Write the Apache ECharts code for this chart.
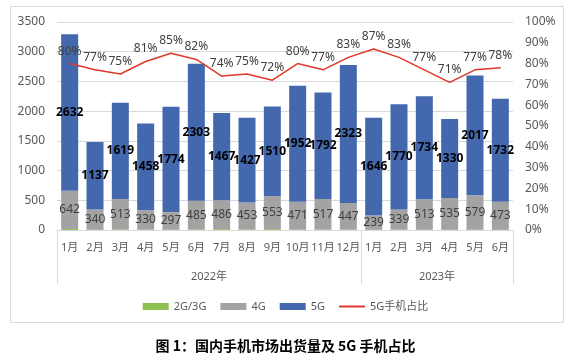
<!DOCTYPE html>
<html><head><meta charset="utf-8">
<script src="https://cdn.jsdelivr.net/npm/echarts@6/dist/echarts.min.js"></script>
<style>html,body{margin:0;padding:0;background:#fff}#c{width:571px;height:362px}</style>
</head><body><div id="c"></div>
<script>
const months = ['1月','2月','3月','4月','5月','6月','7月','8月','9月','10月','11月','12月','1月','2月','3月','4月','5月','6月'];
const years = ['2022年','2023年'];
const g23 = [18, 4, 8, 6, 4, 8, 14, 8, 14, 5, 6, 8, 3, 8, 4, 3, 4, 3];
const g4 = [642,340,513,330,297,485,486,453,553,471,517,447,239,339,513,535,579,473];
const g5 = [2632,1137,1619,1458,1774,2303,1467,1427,1510,1952,1792,2323,1646,1770,1734,1330,2017,1732];
const share = [80,77,75,81,85,82,74,75,72,80,77,83,87,83,77,71,77,78];
const leftTicks = [0,500,1000,1500,2000,2500,3000,3500];
const titleText = '图 1：国内手机市场出货量及 5G 手机占比';

const font = 'Noto Sans, Noto Sans CJK SC, sans-serif';
const chart = echarts.init(document.getElementById('c'), null, {renderer:'canvas'});
chart.setOption({
  animation:false,
  textStyle:{fontFamily:font},
  title:{text:titleText, left:'center', top:334, textStyle:{fontSize:14, fontWeight:'bold', color:'#000', fontFamily:'Noto Sans CJK SC, sans-serif'}},
  graphic:[{type:'rect', shape:{x:10.5,y:6.5,width:553,height:316}, style:{fill:'none', stroke:'#d9d9d9', lineWidth:1}, silent:true, z:-1}],
  legend:{top:296, left:'center', itemWidth:26, itemHeight:7, itemGap:14, textStyle:{fontSize:11, color:'#595959'},
    data:[{name:'2G/3G',icon:'rect'},{name:'4G',icon:'rect'},{name:'5G',icon:'rect'},{name:'5G手机占比',icon:'path://M0 0H26V2H0Z'}]},
  grid:{left:57, right:58, top:22, bottom:132},
  xAxis:[{
    type:'category', data:months, boundaryGap:true,
    axisLine:{lineStyle:{color:'#d9d9d9'}},
    axisTick:{show:true, length:54, lineStyle:{color:'#d9d9d9'}, interval:function(i){return i===0||i===12||i===18;}},
    axisLabel:{color:'#595959', fontSize:11, margin:12, interval:0}
  },{
    type:'value', min:0, max:18, interval:3, position:'bottom', offset:33,
    axisLine:{show:false}, axisTick:{show:false}, splitLine:{show:false},
    axisLabel:{color:'#595959', fontSize:11, showMinLabel:true, showMaxLabel:true,
      formatter:function(v){return v===6?years[0]:(v===15?years[1]:'');}}
  }],
  yAxis:[{
    type:'value', min:0, max:3500, interval:500,
    axisLine:{show:false}, axisTick:{show:false},
    splitLine:{lineStyle:{color:'#d9d9d9'}},
    axisLabel:{color:'#595959', fontSize:12, margin:12, formatter:function(v){return leftTicks.indexOf(v)>=0?String(v):'';}}
  },{
    type:'value', min:0, max:100, interval:10,
    axisLine:{show:false}, axisTick:{show:false}, splitLine:{show:false},
    axisLabel:{color:'#595959', fontSize:12, margin:12, formatter:'{value}%'}
  }],
  series:[
    {name:'2G/3G', type:'bar', stack:'a', data:g23, barWidth:17, itemStyle:{color:'#8DC152'}},
    {name:'4G', type:'bar', stack:'a', data:g4, barWidth:17, itemStyle:{color:'#A3A3A3'},
      label:{show:true, position:'inside', color:'#404040', fontSize:12}},
    {name:'5G', type:'bar', stack:'a', data:g5, barWidth:17, itemStyle:{color:'#4468AE'},
      label:{show:true, position:'inside', color:'#000', fontSize:12, fontWeight:'bold'}},
    {name:'5G手机占比', type:'line', yAxisIndex:1, data:share, symbol:'circle', symbolSize:1, showSymbol:true, z:5,
      lineStyle:{color:'#E0382A', width:1.5}, itemStyle:{color:'#E0382A'},
      label:{show:true, position:'top', distance:6, color:'#404040', fontSize:12, formatter:'{c}%'}}
  ]
});
</script></body></html>
